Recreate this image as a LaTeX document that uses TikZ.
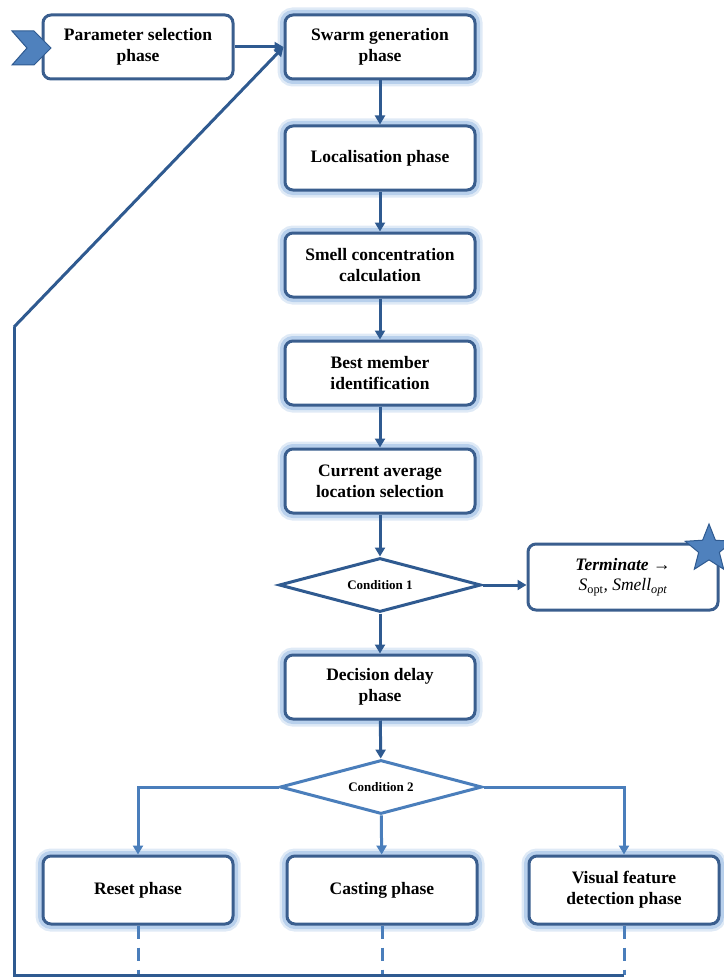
\documentclass[tikz,border=0pt]{standalone}
\usepackage{fontspec}
\setmainfont{Liberation Serif}
\usetikzlibrary{shapes.geometric,arrows.meta}
\definecolor{boxc}{HTML}{3A5E8E}
\definecolor{darkl}{HTML}{2F5A90}
\definecolor{lightl}{HTML}{4A7EBB}
\definecolor{glowc}{HTML}{6F9FD8}
\definecolor{chevf}{HTML}{4F81BD}
\tikzset{
  box/.style={draw=boxc, line width=3pt, rounded corners=8pt, fill=white,
    minimum width=190pt, minimum height=64pt, align=center, inner sep=2pt,
    font=\bfseries\fontsize{17.5}{21}\selectfont},
  glow/.style={preaction={draw=glowc, draw opacity=0.22, line width=15pt},
    preaction={draw=glowc, draw opacity=0.35, line width=10pt}},
  cond/.style={diamond, draw=#1, line width=3pt, fill=white, inner sep=0pt,
    aspect=4.5, minimum width=202pt, minimum height=54pt,
    font=\bfseries\fontsize{13}{15}\selectfont},
  arr/.style={draw=darkl, line width=3pt, -{Triangle[length=9pt,width=10pt]}},
  larr/.style={draw=lightl, line width=3pt, -{Triangle[length=9pt,width=10pt]}},
  dline/.style={draw=lightl, line width=3pt, dash pattern=on 13pt off 9pt},
  loopl/.style={draw=darkl, line width=3pt},
}
\begin{document}
\begin{tikzpicture}[x=1pt,y=-1pt]
\useasboundingbox (0,0) rectangle (723,979);
\node[box] (param) at (138,47) {Parameter selection\\phase};
% chevron
\filldraw[fill=chevf, draw=darkl, line width=1pt, line join=miter]
  (12,31) -- (34,31) -- (51,48) -- (34,65) -- (12,65) -- (27,48) -- cycle;
\node[box,glow] (swarm) at (380,47) {Swarm generation\\phase};
\node[box,glow] (loc) at (380,158) {Localisation phase};
\node[box,glow] (smell) at (380,265) {Smell concentration\\calculation};
\node[box,glow] (best) at (380,373) {Best member\\identification};
\node[box,glow] (curr) at (380,481) {Current average\\location selection};
\node[cond=darkl] (c1) at (380,585) {Condition 1};
\node[box, minimum height=66pt] (term) at (623,577) {\itshape Terminate →\\[-1pt]\mdseries\itshape S\textsubscript{\upshape opt}, Smell\textsubscript{opt}};
\node[star, star points=5, star point ratio=2.3, fill=chevf, draw=darkl, line width=1pt, minimum size=50pt, inner sep=0pt] (star) at (709,549) {};
\node[box,glow] (dec) at (380,687) {Decision delay\\phase};
\node[cond=lightl] (c2) at (381,787) {Condition 2};
\node[box,glow, minimum height=68pt] (reset) at (138,890) {Reset phase};
\node[box,glow, minimum height=68pt] (cast) at (382,890) {Casting phase};
\node[box,glow, minimum height=68pt] (vis) at (624,890) {Visual feature\\detection phase};
% main flow
\draw[arr] (swarm) -- (loc);
\draw[arr] (loc) -- (smell);
\draw[arr] (smell) -- (best);
\draw[arr] (best) -- (curr);
\draw[arr] (curr) -- (c1);
\draw[arr] (c1) -- (dec);
\draw[arr] (c1.east) -- (c1.east -| term.west);
\draw[arr] (dec) -- (c2);
\draw[arr] (param) -- (swarm);
\draw[larr] (c2.west) -| (reset.north);
\draw[larr] (c2.east) -| (vis.north);
\draw[larr] (c2) -- (cast);
% loop
\coordinate (bl) at (14,975);
\coordinate (kink) at (14,327);
\coordinate (rb) at (reset.south |- bl);
\coordinate (cb) at (cast.south |- bl);
\coordinate (vb) at (vis.south |- bl);
\draw[dline] (reset.south) -- (rb);
\draw[dline] (cast.south) -- (cb);
\draw[dline] (vis.south) -- (vb);
\draw[loopl, line join=miter] (vb) -- (bl) -- (kink);
\draw[arr] (kink) -- (swarm.west);
\end{tikzpicture}
\end{document}
